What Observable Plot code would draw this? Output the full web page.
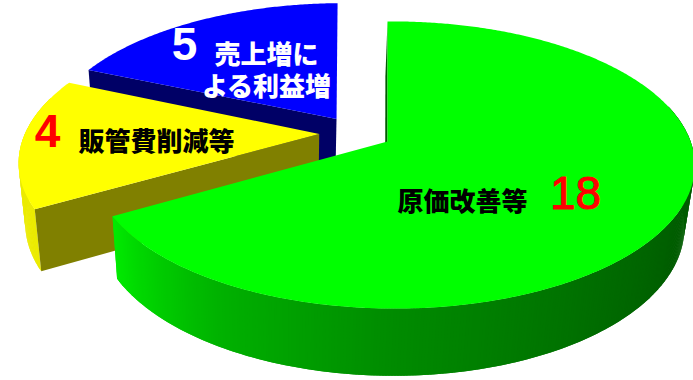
<!DOCTYPE html>
<html>
<head>
<meta charset="utf-8">
<script src="https://cdn.jsdelivr.net/npm/d3@7"></script>
<script src="https://cdn.jsdelivr.net/npm/@observablehq/plot@0.6"></script>
<style>
  html, body { margin: 0; padding: 0; background: #fff; }
</style>
</head>
<body>
<div id="chart"></div>
<script>
// Slices in clockwise order from twelve o'clock.
const categories = ["原価改善等", "販管費削減等", "売上増に\nよる利益増"];
const values = [18, 4, 5];
const topColors = ["#00ff00", "#ffff00", "#0000ff"];
const cutColors = ["#005c00", "#808000", "#000066"];

// Rim lighting: brightness by clockwise angle in degrees.
const shadeAngles = [115, 140, 180, 210, 240, 300];
const shadeLevels = [0.36, 0.42, 0.55, 0.70, 0.92, 0.92];

// Rim strips outside this clockwise range face away and are not drawn.
const rimFacing = [75, 285];

// Small per-slice corrections to the drawn radius and lean.
const radiusScale = [1, 1.03, 1.02];
const sideSkew = [0, 0, 0.024];

// Camera and extrusion of the pie.
const view = {x0: 387, y0: 141, radiusX: 297, radiusY: 139.7, depth: 62, drift: 2.5,
              tiltY: 0.1638, tiltX: 0.02, sink: 0.025, explode: 0.125};

const project = (X, Y, Z) => {
  const w = 1 - view.tiltY * Y - view.tiltX * X + view.sink * Z;
  return {x: view.x0 + (view.radiusX * X - view.drift * Z) / w,
          y: view.y0 + (view.radiusY * Y + view.depth * Z) / w};
};

const arcs = d3.pie().sort(null)(values);
const pieMid = arcs.map((a) => (a.startAngle + a.endAngle) / 2);
const hub = [-Math.sin(pieMid[0]) * view.explode, Math.cos(pieMid[0]) * view.explode];
const offsets = pieMid.map((m) => [
  hub[0] + Math.sin(m) * view.explode,
  hub[1] - Math.cos(m) * view.explode
]);

const onRim = (i, angle, Z) => {
  const localX = radiusScale[i] * Math.sin(angle);
  const localY = -radiusScale[i] * Math.cos(angle);
  return project(offsets[i][0] + localX + sideSkew[i] * localY, offsets[i][1] + localY, Z);
};
const atHub = (i, Z) => project(offsets[i][0], offsets[i][1], Z);

const shade = d3.scaleLinear().domain(shadeAngles).range(shadeLevels).clamp(true);
const shadedColor = (base, level) => {
  const c = d3.rgb(base);
  return d3.rgb(c.r * level, c.g * level, c.b * level).formatHex();
};

let id = 0;
const addPolygon = (list, points, fill) => {
  id += 1;
  points.forEach((p) => list.push({...p, id, fill}));
};

// Far slices are drawn first so the nearer ones cover them.
const layers = [];
[2, 1, 0].forEach((i) => {
  const a = arcs[i];
  const steps = Math.ceil((a.endAngle - a.startAngle) / (Math.PI / 360));
  const stepSize = (a.endAngle - a.startAngle) / steps;
  const angleAt = (s) => a.startAngle + stepSize * s;
  const rim = [], cuts = [], top = [];

  // Each rim strip runs a little under the next one, which hides the seams.
  d3.range(steps).forEach((s) => {
    const t0 = angleAt(s);
    const degrees = t0 * 180 / Math.PI;
    if (degrees < rimFacing[0] || degrees > rimFacing[1]) return;
    const t1 = Math.min(a.endAngle, angleAt(s + 2));
    const level = shade((t0 + stepSize / 2) * 180 / Math.PI);
    addPolygon(rim, [onRim(i, t0, 0), onRim(i, t1, 0), onRim(i, t1, 1), onRim(i, t0, 1)],
      shadedColor(topColors[i], level));
  });
  // Only the cut face on the start side looks towards the viewer.
  addPolygon(cuts, [atHub(i, 0), onRim(i, a.startAngle, 0), onRim(i, a.startAngle, 1), atHub(i, 1)], cutColors[i]);
  addPolygon(top, [atHub(i, 0), ...d3.range(steps + 1).map((s) => onRim(i, angleAt(s), 0))], topColors[i]);

  layers.push(
    Plot.line(rim, {x: "x", y: "y", z: "id", fill: "fill", stroke: "none"}),
    Plot.line(cuts, {x: "x", y: "y", z: "id", fill: "fill", stroke: "none"}),
    Plot.line(top, {x: "x", y: "y", z: "id", fill: "fill", stroke: "none"})
  );
});

// Text: CJK names and large figures, each with its own placement.
const sans = "'Noto Sans CJK JP', sans-serif";
const digitFont = "'Liberation Sans', Arial, sans-serif";
const nameColors = ["#000", "#000", "#fff"];
const nameX = [462, 156, 266];
const nameY = [200, 140, 69];
const figureLabels = values.map(String);
const figureColors = ["#ff0000", "#ff0000", "#ffffff"];
const figureX = [575, 47, 184];
const figureY = [194, 132, 45];
const figureWeights = ["normal", "bold", "bold"];

const names = categories.map((text, i) => ({text, x: nameX[i], y: nameY[i], fill: nameColors[i]}));
const figures = figureLabels.map((text, i) => ({text, x: figureX[i], y: figureY[i], fill: figureColors[i], weight: figureWeights[i]}));

const plot = Plot.plot({
  width: 693,
  height: 380,
  margin: 0,
  x: {domain: [0, 693], range: [0, 693], axis: null},
  y: {domain: [0, 380], range: [0, 380], axis: null},
  color: {type: "identity"},
  style: {background: "#fff"},
  marks: [
    ...layers,
    Plot.text(names, {x: "x", y: "y", text: "text", fill: "fill", fontFamily: sans, fontSize: 26, fontWeight: 900, lineHeight: 32 / 26}),
    Plot.text(figures.filter((d) => d.weight === "normal"), {x: "x", y: "y", text: "text", fill: "fill", stroke: "fill", strokeWidth: 1, fontFamily: digitFont, fontSize: 46}),
    Plot.text(figures.filter((d) => d.weight === "bold"), {x: "x", y: "y", text: "text", fill: "fill", fontFamily: digitFont, fontSize: 46, fontWeight: 700})
  ]
});
document.getElementById("chart").append(plot);
</script>
</body>
</html>
